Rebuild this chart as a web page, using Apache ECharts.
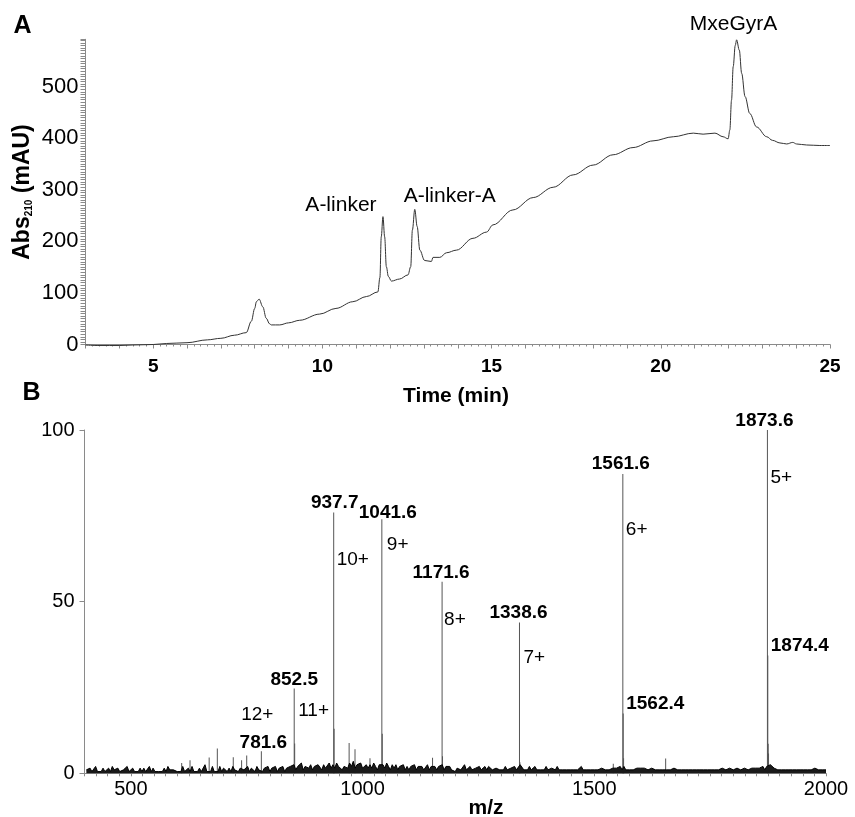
<!DOCTYPE html>
<html><head><meta charset="utf-8">
<script src="https://cdn.jsdelivr.net/npm/echarts@6/dist/echarts.min.js"></script>
<style>html,body{margin:0;padding:0;background:#fff}#c{width:855px;height:817px}</style>
</head><body><div id="c"></div>
<script>
// ---------- Panel A: HPLC chromatogram ----------
const timeMin = [3.0,3.4,4.0,4.4,5.0,5.4,6.0,6.6,7.0,7.4,7.75,7.9,8.0,8.05,8.13,8.24,8.34,8.44,8.49,8.74,9.0,9.33,9.92,10.4,10.9,11.3,11.64,11.7,11.74,11.79,11.84,11.89,11.95,12.04,12.28,12.53,12.61,12.66,12.73,12.8,12.88,13.02,13.22,13.27,13.47,13.67,13.96,14.45,14.85,15.04,15.63,16.23,16.82,17.41,18.0,18.59,19.18,19.77,20.37,20.96,21.25,21.6,21.84,21.99,22.04,22.09,22.14,22.2,22.24,22.32,22.39,22.49,22.63,22.83,23.13,23.3,23.52,23.72,23.9,24.01,24.31,24.7,25.0];
const absMAU = [-1,-2,-2,-1,0,2,3.5,9,12,18,23,45,70,83,88,73,51,40,38,38,42,47,59,70,83,93,102,130,209,248,209,151,132,123,127,135,151,222,262,229,183,163,161,169,169,178,183,206,218,232,261,285,305,329,348,368,382,395,403,410,408,410,403,399,416,474,539,580,591,571,526,481,448,422,403,396,391,389,392,389,387,386,386];
const chromPeakTimes = [11.79, 12.73, 22.24];
const chromPeakNames = ['A-linker', 'A-linker-A', 'MxeGyrA'];
const timeTicks = [5, 10, 15, 20, 25];

// ---------- Panel B: ESI mass spectrum ----------
const peakMz  = [781.6, 852.5, 853.5, 937.7, 938.6, 1041.6, 1042.5, 1171.6, 1172.5, 1338.6, 1339.5, 1561.6, 1562.4, 1563.2, 1873.6, 1874.4, 1875.2, 1876.0];
const peakInt = [6.4, 24.7, 8.7, 76.0, 13.0, 74.0, 11.5, 55.8, 5.0, 43.9, 3.2, 87.2, 17.4, 4.4, 100, 34.3, 8.6, 5.8];
const minorMz  = [609.7, 627.7, 669, 686.6, 721, 739, 750, 971, 983.7, 1016, 1151, 1541, 1654];
const minorInt = [3.0, 3.8, 4.6, 7.2, 4.7, 3.8, 5.2, 8.8, 7.0, 4.4, 4.5, 2.8, 4.3];
const labelledMz = [781.6, 852.5, 937.7, 1041.6, 1171.6, 1338.6, 1561.6, 1873.6];
const chargeStates = ['12+', '11+', '10+', '9+', '8+', '7+', '6+', '5+'];
const isotopeMz = [1562.4, 1874.4];
const mzTicks = [500, 1000, 1500, 2000];
// baseline noise, hand-read, one digit per 4 m/z starting at m/z 404 (digit x 0.5 %)
const noiseStart = 404, noiseStep = 4, noiseUnit = 0.5;
const noiseDigits =
 '2131241213 1231421312 2141231213 1312413121 2131421231 2141231412 1312512141 2141321314 ' +
 '2313421413 3142313241 3241324132 4352436243 3524354253 4635364524 5364735463 4535364254 ' +
 '5364253524 3524243524 3423524342 4352434231 3423523423 3242342432 2342324233 3423542324 ' +
 '2342323242 2322423232 3232322423 2323232232 2322323242 4232322323 2322232232 2232322322 ' +
 '2232223222 3222322232 2223222322 2322232223 2323342435 4342323222 2222322222 2223222222';

// ---------- layout (not data) ----------
const FONT = 'Liberation Sans, Arial, Helvetica, sans-serif';
const chromLabelOffsets = [[-42, -11], [35, -13], [-3, -16]];
const mzLabelOffsets = [[2, -9], [0, -9], [1, -10], [6, -6], [-1, -9], [-1, -10], [-2, -10], [-3, -9]];
const chargeOffsets = [[-4, -37, 'center'], [4, 22], [3, 47], [5, 26], [2, 38], [4, 35], [3, 56], [3, 48]];

const chromData = timeMin.map((t, i) => [t, absMAU[i]]);
const hA = t => absMAU[timeMin.indexOf(t)];
const hB = mz => peakInt[peakMz.indexOf(mz)];
const stickData = peakMz.map((m, i) => [m, peakInt[i]]).concat(minorMz.map((m, i) => [m, minorInt[i]]));
const noiseData = noiseDigits.replace(/\s/g, '').split('').map((d, i) => [noiseStart + i * noiseStep, (+d) * noiseUnit]).filter(p => p[0] <= 2000);

const txt = { color: '#000', opacity: 1, fontFamily: FONT, textBorderWidth: 0, textBorderColor: 'transparent', textShadowBlur: 0 };
const chromLabels = chromPeakTimes.map((t, i) => ({
  value: [t, hA(t)],
  label: Object.assign({ show: true, position: 'inside', offset: chromLabelOffsets[i], align: 'center', verticalAlign: 'middle',
    formatter: chromPeakNames[i], fontSize: 21 }, txt)
}));
const mzLabelItems = labelledMz.map((m, i) => ({
  value: [m, hB(m)],
  label: Object.assign({ show: true, position: 'inside', offset: mzLabelOffsets[i], align: 'center', verticalAlign: 'middle',
    formatter: m.toFixed(1), fontSize: 19, fontWeight: 'bold' }, txt)
}));
const chargeItems = labelledMz.map((m, i) => ({
  value: [m, hB(m)],
  label: Object.assign({ show: true, position: 'inside', offset: [chargeOffsets[i][0], chargeOffsets[i][1]], align: chargeOffsets[i][2] || 'left', verticalAlign: 'middle',
    formatter: chargeStates[i], fontSize: 19 }, txt)
}));
const isoItems = isotopeMz.map(m => ({
  value: [m, hB(m)],
  label: Object.assign({ show: true, position: 'inside', offset: [3, -10], align: 'left', verticalAlign: 'middle',
    formatter: m.toFixed(1), fontSize: 19, fontWeight: 'bold' }, txt)
}));

const axisGray = '#8a8a8a';
const chart = echarts.init(document.getElementById('c'), null, { renderer: 'canvas' });
chart.setOption({
  animation: false,
  backgroundColor: '#fff',
  textStyle: { fontFamily: FONT },
  grid: [
    { left: 85.5, right: 25, top: 39.3, height: 305.2 },
    { left: 84.5, right: 29, top: 430, height: 343.3 }
  ],
  xAxis: [
    { type: 'value', gridIndex: 0, min: 3, max: 25, interval: 1,
      axisLine: { lineStyle: { color: axisGray, width: 1 } },
      axisTick: { length: 4, lineStyle: { color: axisGray } },
      minorTick: { show: true, splitNumber: 5, length: 2, lineStyle: { color: axisGray } },
      splitLine: { show: false },
      axisLabel: { formatter: v => timeTicks.includes(v) ? String(v) : '', fontSize: 19, fontWeight: 'bold', color: '#000', margin: 13, fontFamily: FONT } },
    { type: 'value', gridIndex: 1, min: 400, max: 2000, interval: 100,
      axisLine: { lineStyle: { color: axisGray, width: 1 } },
      axisTick: { length: 3, lineStyle: { color: axisGray } },
      minorTick: { show: true, splitNumber: 4, length: 3, lineStyle: { color: axisGray } },
      splitLine: { show: false },
      axisLabel: { formatter: v => mzTicks.includes(v) ? String(v) : '', fontSize: 20, color: '#000', margin: 6, fontFamily: FONT } }
  ],
  yAxis: [
    { type: 'value', gridIndex: 0, min: 0, max: 592, interval: 100,
      axisLine: { show: true, lineStyle: { color: axisGray, width: 1 } },
      axisTick: { show: true, length: 5, lineStyle: { color: axisGray } },
      minorTick: { show: true, splitNumber: 20, length: 5, lineStyle: { color: axisGray } },
      splitLine: { show: false },
      axisLabel: { showMaxLabel: false, fontSize: 22, color: '#000', margin: 7, fontFamily: FONT } },
    { type: 'value', gridIndex: 1, min: 0, max: 100, interval: 50,
      axisLine: { show: true, lineStyle: { color: axisGray, width: 1 } },
      axisTick: { show: true, length: 5, lineStyle: { color: axisGray } },
      splitLine: { show: false },
      axisLabel: { fontSize: 20, color: '#000', margin: 10, fontFamily: FONT } }
  ],
  series: [
    { type: 'line', xAxisIndex: 0, yAxisIndex: 0, data: chromData, symbol: 'none', smooth: 0.35, smoothMonotone: 'x', clip: false,
      lineStyle: { color: '#333', width: 1 } },
    { type: 'line', xAxisIndex: 1, yAxisIndex: 1, data: noiseData, symbol: 'none',
      lineStyle: { color: '#000', width: 1 }, areaStyle: { color: '#1a1a1a', opacity: 1 } },
    { type: 'bar', xAxisIndex: 1, yAxisIndex: 1, data: stickData, barWidth: 1,
      itemStyle: { color: '#555' } },
    { type: 'scatter', xAxisIndex: 0, yAxisIndex: 0, data: chromLabels, symbolSize: 1, itemStyle: { color: 'rgba(0,0,0,0)', opacity: 1 }, clip: false },
    { type: 'scatter', xAxisIndex: 1, yAxisIndex: 1, data: mzLabelItems.concat(chargeItems, isoItems), symbolSize: 1, itemStyle: { color: 'rgba(0,0,0,0)', opacity: 1 }, clip: false }
  ],
  graphic: [
    { type: 'text', x: 22.5, y: 26, style: { text: 'A', font: 'bold 25px ' + FONT, fill: '#000', textAlign: 'center', textVerticalAlign: 'middle', align: 'center', verticalAlign: 'middle' } },
    { type: 'text', x: 31.5, y: 393.5, style: { text: 'B', font: 'bold 25px ' + FONT, fill: '#000', textAlign: 'center', textVerticalAlign: 'middle', align: 'center', verticalAlign: 'middle' } },
    { type: 'text', x: 456, y: 396, style: { text: 'Time (min)', font: 'bold 21px ' + FONT, fill: '#000', textAlign: 'center', textVerticalAlign: 'middle', align: 'center', verticalAlign: 'middle' } },
    { type: 'text', x: 486, y: 808, style: { text: 'm/z', font: 'bold 21px ' + FONT, fill: '#000', textAlign: 'center', textVerticalAlign: 'middle', align: 'center', verticalAlign: 'middle' } },
    { type: 'text', x: 22.5, y: 192, rotation: Math.PI / 2,
      style: { text: '{b|Abs}{s|210}{b| (mAU)}', fill: '#000', textAlign: 'center', textVerticalAlign: 'middle', align: 'center', verticalAlign: 'middle',
        rich: { b: { fontSize: 23, fontWeight: 'bold', fontFamily: FONT, fill: '#000' },
                s: { fontSize: 10, fontWeight: 'bold', fontFamily: FONT, fill: '#000', verticalAlign: 'bottom' } } } }
  ]
});
</script>
</body></html>
